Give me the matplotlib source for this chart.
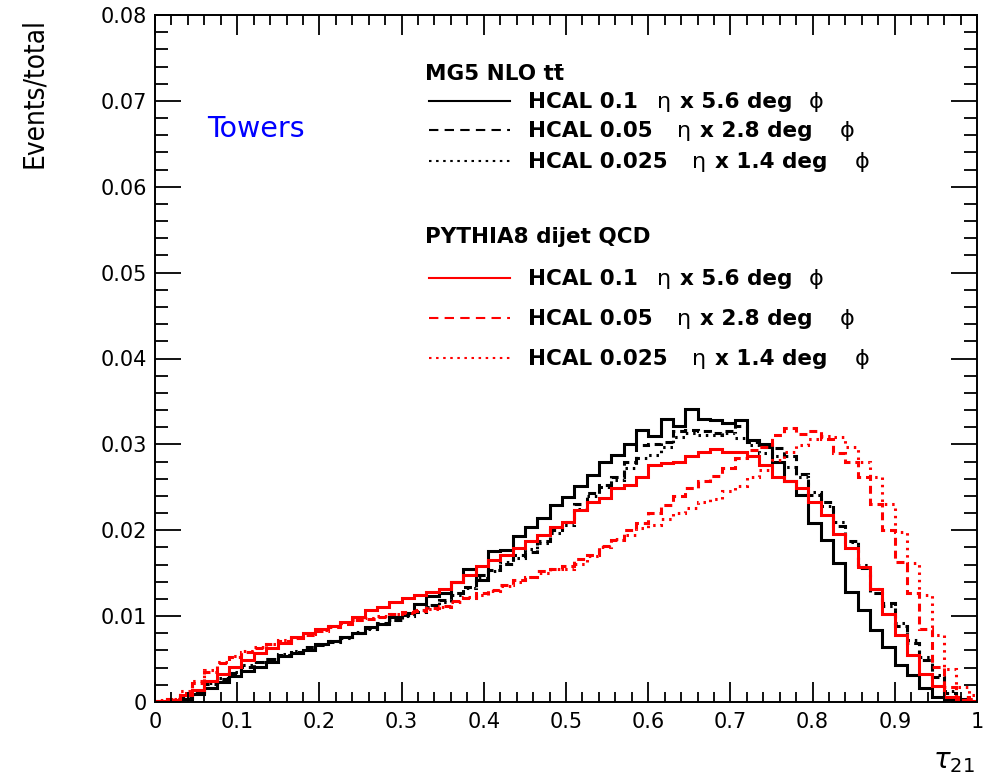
import numpy as np
import matplotlib
matplotlib.use("Agg")
import matplotlib.pyplot as plt
from matplotlib.lines import Line2D

# tau_21 histograms, bin width 0.015, normalised to total
bin_width = 0.015

mg5_hcal_01 = [0.0000, 0.0001, 0.0004, 0.0009, 0.0016, 0.0023, 0.0030, 0.0036, 0.0041, 0.0046,
               0.0053, 0.0057, 0.0061, 0.0067, 0.0071, 0.0076, 0.0080, 0.0087, 0.0091, 0.0099,
               0.0104, 0.0114, 0.0123, 0.0127, 0.0140, 0.0155, 0.0142, 0.0176, 0.0177, 0.0193,
               0.0204, 0.0214, 0.0229, 0.0239, 0.0251, 0.0264, 0.0280, 0.0288, 0.0301, 0.0317,
               0.0310, 0.0329, 0.0321, 0.0341, 0.0330, 0.0328, 0.0325, 0.0328, 0.0305, 0.0301,
               0.0280, 0.0257, 0.0241, 0.0208, 0.0189, 0.0162, 0.0128, 0.0107, 0.0084, 0.0064,
               0.0043, 0.0031, 0.0016, 0.0006, 0.0002, 0.0001, 0.0000]

mg5_hcal_005 = [0.0000, 0.0002, 0.0005, 0.0012, 0.0021, 0.0027, 0.0034, 0.0041, 0.0046, 0.0050,
                0.0055, 0.0058, 0.0064, 0.0066, 0.0070, 0.0076, 0.0080, 0.0086, 0.0092, 0.0095,
                0.0101, 0.0105, 0.0113, 0.0119, 0.0127, 0.0134, 0.0148, 0.0154, 0.0161, 0.0171,
                0.0175, 0.0187, 0.0200, 0.0210, 0.0231, 0.0243, 0.0253, 0.0262, 0.0280, 0.0299,
                0.0301, 0.0303, 0.0315, 0.0317, 0.0315, 0.0313, 0.0315, 0.0321, 0.0303, 0.0297,
                0.0296, 0.0286, 0.0266, 0.0241, 0.0233, 0.0205, 0.0187, 0.0156, 0.0127, 0.0115,
                0.0088, 0.0069, 0.0049, 0.0029, 0.0010, 0.0003, 0.0001]

mg5_hcal_0025 = [0.0000, 0.0002, 0.0006, 0.0013, 0.0022, 0.0028, 0.0035, 0.0043, 0.0047, 0.0050,
                 0.0056, 0.0059, 0.0063, 0.0067, 0.0071, 0.0075, 0.0081, 0.0085, 0.0091, 0.0096,
                 0.0100, 0.0107, 0.0111, 0.0117, 0.0125, 0.0133, 0.0144, 0.0152, 0.0163, 0.0168,
                 0.0178, 0.0185, 0.0197, 0.0206, 0.0225, 0.0240, 0.0250, 0.0258, 0.0272, 0.0284,
                 0.0288, 0.0297, 0.0309, 0.0313, 0.0311, 0.0311, 0.0313, 0.0307, 0.0299, 0.0290,
                 0.0286, 0.0274, 0.0262, 0.0245, 0.0228, 0.0210, 0.0186, 0.0160, 0.0132, 0.0112,
                 0.0092, 0.0072, 0.0052, 0.0032, 0.0013, 0.0004, 0.0001]

py8_hcal_01 = [0.0001, 0.0002, 0.0008, 0.0014, 0.0024, 0.0033, 0.0041, 0.0049, 0.0057, 0.0063,
               0.0069, 0.0076, 0.0080, 0.0085, 0.0088, 0.0093, 0.0099, 0.0107, 0.0111, 0.0117,
               0.0121, 0.0125, 0.0128, 0.0132, 0.0140, 0.0148, 0.0158, 0.0165, 0.0171, 0.0179,
               0.0187, 0.0194, 0.0204, 0.0210, 0.0224, 0.0233, 0.0237, 0.0249, 0.0253, 0.0262,
               0.0276, 0.0278, 0.0280, 0.0287, 0.0291, 0.0295, 0.0291, 0.0291, 0.0286, 0.0276,
               0.0262, 0.0257, 0.0249, 0.0233, 0.0218, 0.0196, 0.0179, 0.0157, 0.0132, 0.0103,
               0.0078, 0.0055, 0.0033, 0.0019, 0.0006, 0.0002, 0.0001]

py8_hcal_005 = [0.0001, 0.0003, 0.0011, 0.0022, 0.0035, 0.0045, 0.0052, 0.0058, 0.0063, 0.0068,
                0.0071, 0.0075, 0.0078, 0.0083, 0.0087, 0.0091, 0.0095, 0.0097, 0.0099, 0.0102,
                0.0105, 0.0106, 0.0109, 0.0112, 0.0118, 0.0121, 0.0127, 0.0131, 0.0136, 0.0142,
                0.0146, 0.0152, 0.0155, 0.0158, 0.0166, 0.0171, 0.0182, 0.0189, 0.0200, 0.0208,
                0.0220, 0.0229, 0.0240, 0.0249, 0.0257, 0.0263, 0.0272, 0.0284, 0.0293, 0.0297,
                0.0311, 0.0319, 0.0312, 0.0315, 0.0306, 0.0290, 0.0280, 0.0262, 0.0231, 0.0200,
                0.0163, 0.0127, 0.0085, 0.0041, 0.0018, 0.0006, 0.0004]

py8_hcal_0025 = [0.0002, 0.0004, 0.0013, 0.0025, 0.0037, 0.0046, 0.0053, 0.0059, 0.0064, 0.0068,
                 0.0072, 0.0075, 0.0079, 0.0084, 0.0088, 0.0092, 0.0096, 0.0098, 0.0100, 0.0102,
                 0.0104, 0.0107, 0.0108, 0.0111, 0.0116, 0.0122, 0.0125, 0.0129, 0.0135, 0.0140,
                 0.0145, 0.0150, 0.0155, 0.0155, 0.0161, 0.0170, 0.0180, 0.0190, 0.0194, 0.0203,
                 0.0206, 0.0213, 0.0220, 0.0226, 0.0233, 0.0236, 0.0246, 0.0252, 0.0262, 0.0270,
                 0.0282, 0.0291, 0.0299, 0.0306, 0.0310, 0.0309, 0.0297, 0.0280, 0.0262, 0.0231,
                 0.0198, 0.0162, 0.0125, 0.0078, 0.0039, 0.0018, 0.0008]

legend_rows = [["HCAL 0.1", "x 5.6 deg"],
               ["HCAL 0.05", "x 2.8 deg"],
               ["HCAL 0.025", "x 1.4 deg"]]
# Data lists done

W, H = 990, 776
fig = plt.figure(figsize=(W / 100, H / 100), dpi=100)
ax = fig.add_axes([155 / W, 1 - 702 / H, 822 / W, 687 / H])


def fx(p):
    return p / W


def fy(p):
    return 1 - p / H


edges = np.arange(len(mg5_hcal_01) + 1) * bin_width
dash = (2.6, 1.6)
dot = (0.8, 1.6)
hists = [(mg5_hcal_01, "black", "-"), (mg5_hcal_005, "black", (0, dash)),
         (mg5_hcal_0025, "black", (0, dot)), (py8_hcal_01, "red", "-"),
         (py8_hcal_005, "red", (0, dash)), (py8_hcal_0025, "red", (0, dot))]
for vals, col, ls in hists:
    ax.stairs(vals, edges, baseline=0, fill=False, color=col, linestyle=ls, linewidth=2.2)

ax.set_xlim(0, 1)
ax.set_ylim(0, 0.08)
ax.set_xticks(np.arange(0, 1.01, 0.1))
ax.set_xticks(np.arange(0, 1.001, 0.02), minor=True)
ax.set_yticks(np.arange(0, 0.0801, 0.01))
ax.set_yticks(np.arange(0, 0.0801, 0.002), minor=True)
ax.xaxis.set_major_formatter(plt.FuncFormatter(lambda v, p: "%g" % round(v, 3)))
ax.yaxis.set_major_formatter(plt.FuncFormatter(lambda v, p: "%g" % round(v, 3)))
ax.tick_params(which="both", direction="in", top=True, right=True, width=1.3, labelsize=15)
ax.tick_params(axis="x", which="major", length=14.5, pad=7)
ax.tick_params(axis="x", which="minor", length=7.2)
ax.tick_params(axis="y", which="major", length=18.5, pad=6)
ax.tick_params(axis="y", which="minor", length=9.3)
for s in ax.spines.values():
    s.set_linewidth(1.4)

# axis titles
fig.text(fx(34), fy(18), "Events/total", rotation=90, ha="center", va="top",
         family="DejaVu Sans", stretch="condensed", fontsize=20)
fig.text(fx(975), fy(768), r"$\tau_{21}$", ha="right", va="baseline", fontsize=20)

fig.text(fx(207), fy(137), "Towers", color="blue", fontsize=20.5, va="baseline")

# legend
fig.text(fx(425), fy(80), "MG5 NLO tt\u0304", fontsize=15.5, weight="bold", va="baseline")
fig.text(fx(425), fy(243), "PYTHIA8 dijet QCD", fontsize=15.5, weight="bold", va="baseline")
row_y = [101, 130, 161, 278, 318, 358]
eta_x = [657, 677, 692]
deg_x = [680, 700, 715]
phi_x = [809, 840, 855]
styles = ["-", (0, (4.5, 3)), (0, (1.2, 2.2))]
for k, y in enumerate(row_y):
    i = k % 3
    col = "black" if k < 3 else "red"
    fig.add_artist(Line2D([fx(429), fx(510)], [fy(y), fy(y)], transform=fig.transFigure,
                          color=col, linestyle=styles[i], linewidth=1.5))
    base = fy(y + 7)
    fig.text(fx(528), base, legend_rows[i][0], fontsize=15.5, weight="bold", va="baseline")
    fig.text(fx(eta_x[i]), base, "\u03b7", fontsize=16, va="baseline")
    fig.text(fx(deg_x[i]), base, legend_rows[i][1], fontsize=15.5, weight="bold", va="baseline")
    fig.text(fx(phi_x[i]), base, "\u03d5", fontsize=16, va="baseline")

fig.savefig("out.png", dpi=100)
